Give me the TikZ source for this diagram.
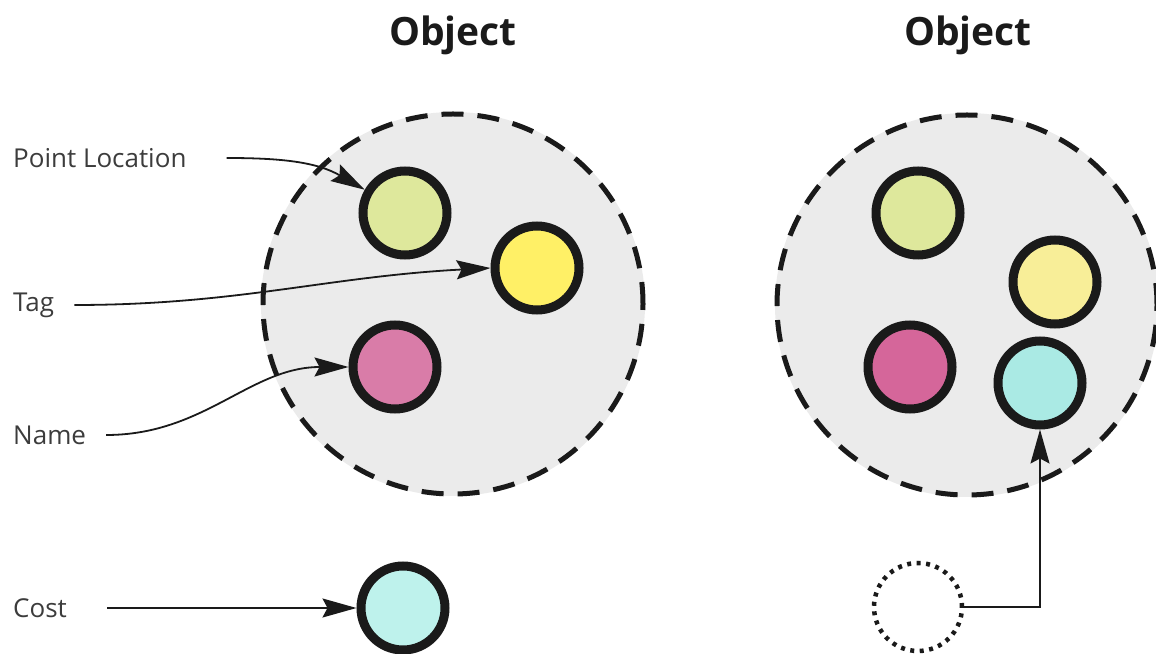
\documentclass[tikz,border=0pt]{standalone}
\usepackage{fontspec}
\setmainfont{Open Sans}
\usepackage{tikz}
\usetikzlibrary{arrows.meta}
\definecolor{bubble}{RGB}{235, 235, 235}
\definecolor{lime}{RGB}{222, 232, 156}
\definecolor{lemon}{RGB}{255, 240, 102}
\definecolor{lemonpale}{RGB}{248, 238, 152}
\definecolor{rose}{RGB}{217, 124, 168}
\definecolor{rosedeep}{RGB}{213, 102, 154}
\definecolor{mint}{RGB}{190, 242, 236}
\definecolor{mintdeep}{RGB}{170, 234, 228}
\definecolor{ink}{RGB}{26, 26, 26}
\definecolor{labelgray}{RGB}{60, 60, 60}

\begin{document}
\begin{tikzpicture}[x=1pt, y=1pt,
    prop/.style={circle, draw=ink, line width=9pt, minimum size=84pt, inner sep=0pt},
    field/.style={font=\fontsize{26}{30}\selectfont, text=labelgray, anchor=west, inner sep=0pt},
    heading/.style={font=\fontsize{39}{44}\selectfont\bfseries, text=ink},
    link/.style={-{Stealth[length=34pt, width=19pt, inset=5pt]}, line width=1.8pt, ink}]
    \useasboundingbox (0,0) rectangle (1156,653);

    % Object outlines
    \fill[bubble] (453,349) circle (192);
    \draw[ink, line width=5pt, dash pattern=on 22pt off 14pt] (453,349) circle (190);
    \fill[bubble] (967,348) circle (192);
    \draw[ink, line width=5pt, dash pattern=on 22pt off 14pt] (967,348) circle (190);

    \node[heading] (objA) at (453,618) {Object};
    \node[heading] (objB) at (968,618) {Object};

    % Properties of the first object
    \node[prop, fill=lime] (locA) at (405,440) {};
    \node[prop, fill=lemon] (tagA) at (537,385) {};
    \node[prop, fill=rose] (nameA) at (395,286) {};
    \node[prop, fill=mint] (cost) at (403,45) {};

    % Properties of the second object
    \node[prop, fill=lime] (locB) at (918,440) {};
    \node[prop, fill=lemonpale] (tagB) at (1055,371) {};
    \node[prop, fill=rosedeep] (nameB) at (910,286) {};
    \node[prop, fill=mintdeep] (costB) at (1040,270) {};

    % Property placeholder outside
    \node[circle, draw=ink, line width=4.5pt, dash pattern=on 4pt off 5.5pt, minimum size=88pt, inner sep=0pt] (slot) at (918,46) {};

    % Labels
    \node[field] (lblLoc) at (13,495) {Point Location};
    \node[field] (lblTag) at (13,348) {Tag};
    \node[field] (lblName) at (13,218) {Name};
    \node[field] (lblCost) at (13,45) {Cost};

    \draw[link] ([xshift=40pt]lblLoc.east) to[out=0, in=150] (locA);
    \draw[link] ([xshift=20pt]lblTag.east) to[out=0, in=183] (tagA.west);
    \draw[link] ([xshift=20pt]lblName.east) to[out=0, in=180] (nameA.west);
    \draw[link] ([xshift=40pt]lblCost.east) -- (cost.west);

    \draw[link] (slot.east) -| (costB.south);
\end{tikzpicture}
\end{document}
